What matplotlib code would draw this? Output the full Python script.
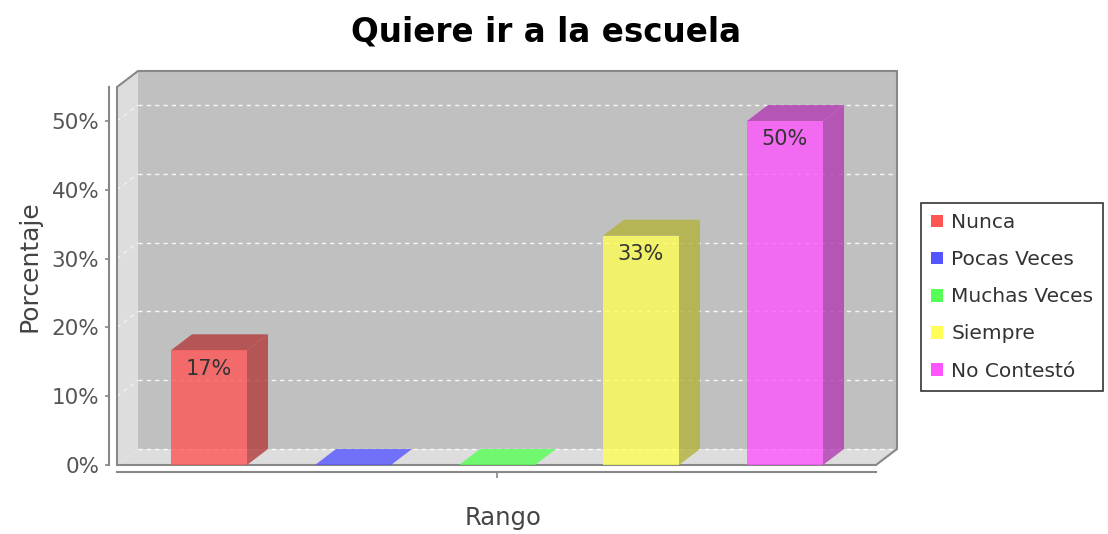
import numpy as np
import matplotlib
matplotlib.use("Agg")
import matplotlib.pyplot as plt
import matplotlib.ticker as mticker
from matplotlib.patches import Polygon, Patch

# ---- data ----
categories = ["Nunca", "Pocas Veces", "Muchas Veces", "Siempre", "No Contestó"]
values = [16.67, 0.0, 0.0, 33.33, 50.0]
value_labels = ["17%", "", "", "33%", "50%"]
colors = ["#FF5555", "#5555FF", "#55FF55", "#FFFF55", "#FF55FF"]
yticks = [0, 10, 20, 30, 40, 50]

W, H, DPI = 1108, 534, 100
fig = plt.figure(figsize=(W / DPI, H / DPI), dpi=DPI)
fig.patch.set_facecolor("white")

# front plane of the 3D box (pixels)
left_px, right_px, bot_px, top_px = 117, 876, 465, 87
ax = fig.add_axes([left_px / W, (H - bot_px) / H,
                   (right_px - left_px) / W, (bot_px - top_px) / H])
xmin, xmax = -0.639, 4.632
ymax = 54.94
ax.set_xlim(xmin, xmax)
ax.set_ylim(0, ymax)
ax.patch.set_visible(False)

# 3D depth, converted from pixels to data units
depth_px = (21, 16)
ddx = depth_px[0] * (xmax - xmin) / (right_px - left_px)
ddy = depth_px[1] * ymax / (bot_px - top_px)

wall = "#C0C0C0"
side = "#DDDDDD"
# back wall, left wall, floor
ax.add_patch(Polygon([(xmin + ddx, ddy), (xmax + ddx, ddy), (xmax + ddx, ymax + ddy),
                      (xmin + ddx, ymax + ddy)], closed=True, fc=wall, ec="none",
                     clip_on=False, zorder=0))
ax.add_patch(Polygon([(xmin, 0), (xmin, ymax), (xmin + ddx, ymax + ddy), (xmin + ddx, ddy)],
                     closed=True, fc=side, ec="none", clip_on=False, zorder=0))
ax.add_patch(Polygon([(xmin, 0), (xmax, 0), (xmax + ddx, ddy), (xmin + ddx, ddy)],
                     closed=True, fc=side, ec="none", clip_on=False, zorder=0))

# gridlines on the back wall and the left wall
for yv in yticks:
    ax.plot([xmin + ddx, xmax + ddx], [yv + ddy, yv + ddy], color="white", lw=1,
            ls=(0, (3, 3)), alpha=0.9, clip_on=False, zorder=1)
    if yv > 0:
        ax.plot([xmin, xmin + ddx], [yv, yv + ddy], color="white", lw=1,
                ls=(0, (3, 3)), alpha=0.6, clip_on=False, zorder=1)

# outer outline of the box
ax.add_patch(Polygon([(xmin, 0), (xmin, ymax), (xmin + ddx, ymax + ddy), (xmax + ddx, ymax + ddy),
                      (xmax + ddx, ddy), (xmax, 0)], closed=True, fc="none", ec="#888888",
                     lw=1.5, clip_on=False, zorder=2))


def darker(c, f=0.7):
    r, g, b = matplotlib.colors.to_rgb(c)
    return (r * f, g * f, b * f)


bw = 76 / 144
alpha = 0.8
for i, (v, c) in enumerate(zip(values, colors)):
    x0, x1 = i - bw / 2, i + bw / 2
    if v <= 0:
        ax.add_patch(Polygon([(x0, 0), (x1, 0), (x1 + ddx, ddy), (x0 + ddx, ddy)], closed=True,
                             fc=c, ec="none", alpha=alpha, clip_on=False, zorder=3))
        continue
    ax.add_patch(Polygon([(x0, v), (x1, v), (x1 + ddx, v + ddy), (x0 + ddx, v + ddy)], closed=True,
                         fc=darker(c), ec="none", alpha=alpha, clip_on=False, zorder=3))
    ax.add_patch(Polygon([(x1, 0), (x1 + ddx, ddy), (x1 + ddx, v + ddy), (x1, v)], closed=True,
                         fc=darker(c), ec="none", alpha=alpha, clip_on=False, zorder=3))
    ax.add_patch(Polygon([(x0, 0), (x1, 0), (x1, v), (x0, v)], closed=True,
                         fc=c, ec="none", alpha=alpha, clip_on=False, zorder=3))
    ax.annotate(value_labels[i], (i, v), xytext=(0, -6), textcoords="offset points",
                ha="center", va="top", fontsize=15, color="#333333", zorder=4)

# axes lines and ticks (offsets in points: 8 px and 7 px)
for s in ["top", "right"]:
    ax.spines[s].set_visible(False)
ax.spines["left"].set_position(("outward", 5.8))
ax.spines["bottom"].set_position(("outward", 5.0))
for s in ["left", "bottom"]:
    ax.spines[s].set_color("#888888")
    ax.spines[s].set_linewidth(1.5)
ax.set_yticks(yticks)
ax.yaxis.set_major_formatter(mticker.FuncFormatter(lambda v, p: f"{v:.0f}%"))
ax.set_xticks([2])
ax.set_xticklabels([""])
ax.tick_params(axis="y", direction="out", length=3, width=1.2, color="#888888",
               labelsize=15.5, labelcolor="#555555", pad=4)
ax.tick_params(axis="x", direction="out", length=4, width=1.2, color="#888888")

# texts
fig.text(546 / W, (H - 42) / H, "Quiere ir a la escuela", ha="center", va="baseline",
         fontsize=23.5, fontweight="heavy", color="black")
fig.text(29 / W, (H - 266) / H, "Porcentaje", rotation=90, ha="center", va="center",
         fontsize=18, color="#444444")
fig.text(503 / W, (H - 525) / H, "Rango", ha="center", va="baseline",
         fontsize=17.5, color="#444444")

# legend
handles = [Patch(facecolor=c, edgecolor="none", label=n) for n, c in zip(categories, colors)]
leg = fig.legend(handles=handles, loc="upper left", bbox_to_anchor=(921 / W, (H - 203) / H),
                 bbox_transform=fig.transFigure, fontsize=14.5, frameon=True, fancybox=False,
                 borderaxespad=0, borderpad=0.5, handlelength=0.6, handleheight=0.6,
                 handletextpad=0.4, labelspacing=0.9)
leg.get_frame().set_edgecolor("black")
leg.get_frame().set_linewidth(1.2)
for t in leg.get_texts():
    t.set_color("#333333")

fig.savefig("out.png", dpi=DPI)
